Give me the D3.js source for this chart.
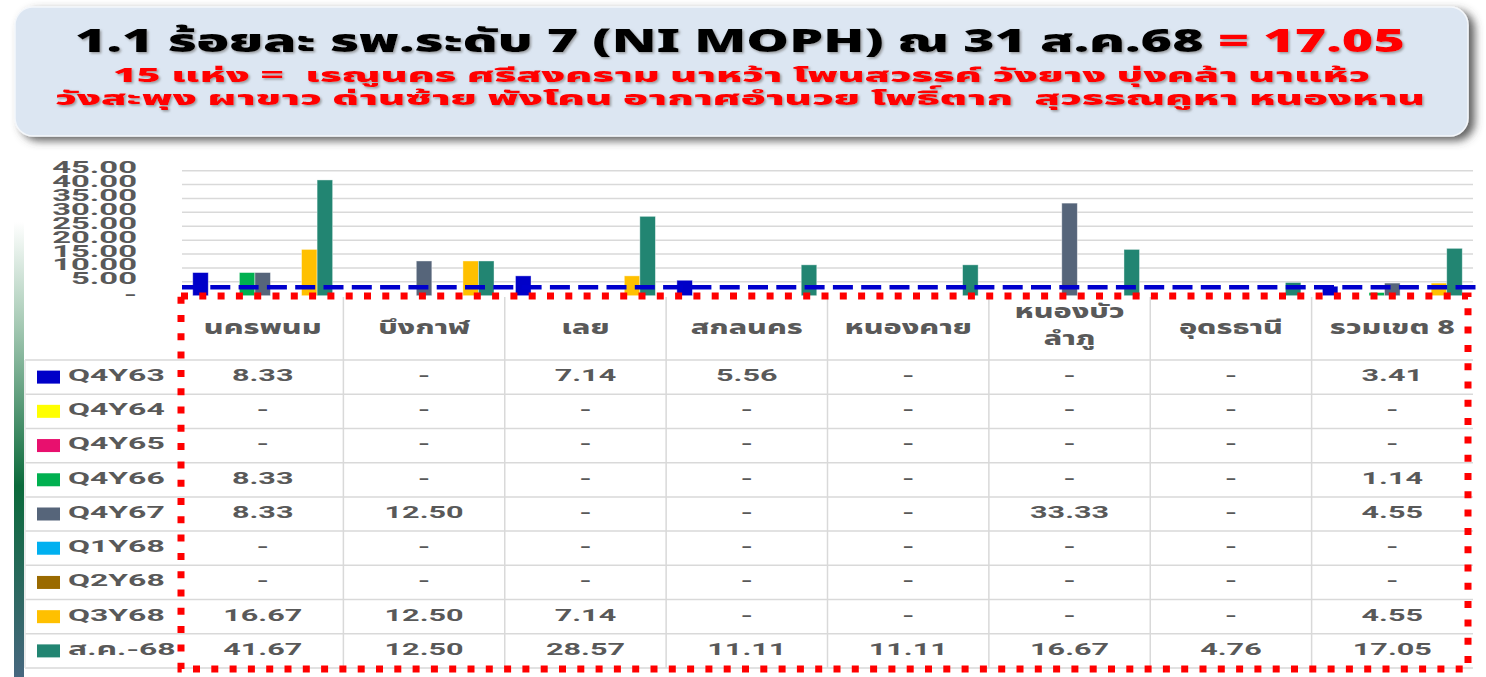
<html>
<head>
    <meta charset="utf-8">
    <title>ร้อยละ รพ.ระดับ 7 (NI MOPH)</title>
    <script src="https://cdn.jsdelivr.net/npm/d3@7/dist/d3.min.js" charset="utf-8"></script>
    <style>
        body {
            margin: 0;
            background: #ffffff;
            font-family: "Noto Sans Thai", "Noto Sans", Roboto, sans-serif;
        }
        .num {
            font-family: Roboto, "Noto Sans Thai", sans-serif;
            font-weight: bold;
            fill: #595959;
        }
        .thai {
            font-family: "Noto Sans Thai", "Noto Sans", sans-serif;
            font-weight: 800;
            fill: #595959;
        }
        .title {
            white-space: pre;
        }
    </style>
</head>
<body>
    <script>
    var width = 1486;
    var height = 677;

    // data (null = "-")
    var districts = ["นครพนม", "บึงกาฬ", "เลย", "สกลนคร", "หนองคาย", "หนองบัวลำภู", "อุดรธานี", "รวมเขต 8"];
    var periods = ["Q4Y63", "Q4Y64", "Q4Y65", "Q4Y66", "Q4Y67", "Q1Y68", "Q2Y68", "Q3Y68", "ส.ค.-68"];
    var q4y63 = [8.33, null, 7.14, 5.56, null, null, null, 3.41];
    var q4y64 = [null, null, null, null, null, null, null, null];
    var q4y65 = [null, null, null, null, null, null, null, null];
    var q4y66 = [8.33, null, null, null, null, null, null, 1.14];
    var q4y67 = [8.33, 12.50, null, null, null, 33.33, null, 4.55];
    var q1y68 = [null, null, null, null, null, null, null, null];
    var q2y68 = [null, null, null, null, null, null, null, null];
    var q3y68 = [16.67, 12.50, 7.14, null, null, null, null, 4.55];
    var aug68 = [41.67, 12.50, 28.57, 11.11, 11.11, 16.67, 4.76, 17.05];
    var yTicks = [0, 5, 10, 15, 20, 25, 30, 35, 40, 45];
    var targetValue = 3;
    var hospitals = "เรณูนคร ศรีสงคราม นาหว้า โพนสวรรค์ วังยาง บุ่งคล้า นาแห้ว วังสะพุง ผาขาว ด่านซ้าย พังโคน อากาศอำนวย โพธิ์ตาก สุวรรณคูหา หนองหาน".split(" ");

    var seriesValues = [q4y63, q4y64, q4y65, q4y66, q4y67, q1y68, q2y68, q3y68, aug68];
    var periodColors = ["#0000c8", "#ffff00", "#e8106e", "#00b050", "#56657a", "#00b0f0", "#9a6a00", "#ffc000", "#228572"];

    // the picture is stretched sideways
    var SX = 1.8, SX_AXIS = 2.05, SX_LEG = 1.88, SX_HEAD = 1.6;
    var fmt = d3.format(".2f");
    function cellText(v) { return v == null ? "-" : fmt(v); }

    var svg = d3.select("body")
        .append("svg")
        .attr("width", width)
        .attr("height", height);

    var defs = svg.append("defs");
    var shadow = defs.append("filter").attr("id", "boxShadow")
        .attr("x", "-5%").attr("y", "-20%").attr("width", "110%").attr("height", "145%");
    shadow.append("feDropShadow").attr("dx", 6).attr("dy", 4).attr("stdDeviation", 4)
        .attr("flood-color", "#444").attr("flood-opacity", 0.85);
    var tshadow = defs.append("filter").attr("id", "textShadow");
    tshadow.append("feDropShadow").attr("dx", 1.5).attr("dy", 1.5).attr("stdDeviation", 1.2)
        .attr("flood-color", "#7a7a7a").attr("flood-opacity", 0.7);
    var grad = defs.append("linearGradient").attr("id", "sideBar")
        .attr("x1", 0).attr("y1", 0).attr("x2", 0).attr("y2", 1);
    grad.append("stop").attr("offset", "0%").attr("stop-color", "#ffffff");
    grad.append("stop").attr("offset", "22%").attr("stop-color", "#a8cbb6");
    grad.append("stop").attr("offset", "58%").attr("stop-color", "#0b6a3b");
    grad.append("stop").attr("offset", "100%").attr("stop-color", "#47677f");

    // side ribbon
    svg.append("rect").attr("x", 14).attr("y", 222).attr("width", 10).attr("height", 455)
        .attr("fill", "url(#sideBar)");

    // title box
    svg.append("rect")
        .attr("x", 15).attr("y", 7)
        .attr("width", 1453).attr("height", 129)
        .attr("rx", 18)
        .attr("fill", "#dce6f2")
        .attr("stroke", "#f4f7fb").attr("stroke-width", 1.5)
        .attr("filter", "url(#boxShadow)");

    var t1 = svg.append("text")
        .attr("class", "title")
        .attr("x", 75).attr("y", 52)
        .attr("font-size", 31).attr("font-weight", 900)
        .attr("textLength", 1330).attr("lengthAdjust", "spacingAndGlyphs")
        .attr("filter", "url(#textShadow)");
    t1.append("tspan").attr("fill", "#000").text("1.1 ร้อยละ รพ.ระดับ 7 (NI MOPH) ณ 31 ส.ค.68 ");
    t1.append("tspan").attr("fill", "#ff0000").text("= " + fmt(aug68[7]));

    svg.append("text")
        .attr("class", "title")
        .attr("x", 113).attr("y", 82)
        .attr("font-size", 20).attr("font-weight", 900).attr("fill", "#ff0000")
        .attr("textLength", 1257).attr("lengthAdjust", "spacingAndGlyphs")
        .attr("filter", "url(#textShadow)")
        .text(hospitals.length + " แห่ง =  " + hospitals.slice(0, 7).join(" "));

    svg.append("text")
        .attr("class", "title")
        .attr("x", 55).attr("y", 105)
        .attr("font-size", 20).attr("font-weight", 900).attr("fill", "#ff0000")
        .attr("textLength", 1370).attr("lengthAdjust", "spacingAndGlyphs")
        .attr("filter", "url(#textShadow)")
        .text(hospitals.slice(7, 13).join(" ") + "  " + hospitals.slice(13).join(" "));

    // scales
    var x0 = d3.scaleBand()
        .domain(districts)
        .range([182, 1473])
        .paddingInner(0.133)
        .paddingOuter(0.0665);
    var x1 = d3.scaleBand()
        .domain(periods)
        .range([0, x0.bandwidth()]);
    var y = d3.scaleLinear()
        .domain([0, 45])
        .range([295.7, 170.7]);
    var row = d3.scaleBand()
        .domain(periods)
        .range([360, 668]);
    var color = d3.scaleOrdinal().domain(periods).range(periodColors);

    // gridlines
    svg.append("g").selectAll("line")
        .data(yTicks.slice(1))
        .enter().append("line")
        .attr("x1", 182).attr("x2", 1473)
        .attr("y1", d => y(d)).attr("y2", d => y(d))
        .attr("stroke", "#d9d9d9").attr("stroke-width", 1.5);

    // y axis
    var yAxis = svg.append("g")
        .attr("transform", "translate(137,0)")
        .call(d3.axisLeft(y).tickValues(yTicks).tickSize(0)
            .tickFormat(d => d === 0 ? "-" : fmt(d)));
    yAxis.select(".domain").remove();
    yAxis.selectAll("text")
        .attr("class", "num")
        .attr("font-size", 16)
        .attr("x", 0).attr("dy", null)
        .attr("y", d => d === 0 ? 4 : 2)
        .attr("transform", "scale(" + SX_AXIS + ",1)");

    // bars
    var groups = svg.append("g").selectAll("g")
        .data(districts)
        .enter().append("g")
        .attr("transform", d => "translate(" + x0(d) + ",0)");

    groups.selectAll("rect")
        .data((d, i) => periods.map((p, j) => ({ period: p, value: seriesValues[j][i] }))
            .filter(e => e.value != null))
        .enter().append("rect")
        .attr("x", d => x1(d.period))
        .attr("width", x1.bandwidth())
        .attr("y", d => y(d.value))
        .attr("height", d => y(0) - y(d.value))
        .attr("fill", d => color(d.period))
        .attr("stroke", "#ffffff").attr("stroke-opacity", 0.5).attr("stroke-width", 0.8);

    // target line
    svg.append("line")
        .attr("x1", 182).attr("x2", 1476)
        .attr("y1", y(targetValue)).attr("y2", y(targetValue))
        .attr("stroke", "#0000cc").attr("stroke-width", 4.5)
        .attr("stroke-dasharray", "20,8.3");

    // data table
    var table = svg.append("g");
    var rowEdges = periods.map(p => row(p)).concat([row.range()[1]]);
    table.selectAll("line.h")
        .data(rowEdges)
        .enter().append("line")
        .attr("class", "h")
        .attr("x1", 25).attr("x2", 1473)
        .attr("y1", d => d).attr("y2", d => d)
        .attr("stroke", "#d9d9d9").attr("stroke-width", 1.5);
    table.append("line")
        .attr("x1", 25).attr("x2", 25)
        .attr("y1", row.range()[0]).attr("y2", row.range()[1])
        .attr("stroke", "#e6e6e6").attr("stroke-width", 1.5);
    table.selectAll("line.v")
        .data(districts.slice(1))
        .enter().append("line")
        .attr("class", "v")
        .attr("x1", d => x0(d) - x0.step() * x0.paddingInner() / 2)
        .attr("x2", d => x0(d) - x0.step() * x0.paddingInner() / 2)
        .attr("y1", 297).attr("y2", row.range()[1])
        .attr("stroke", "#d9d9d9").attr("stroke-width", 1.5);

    // column headers
    var headers = table.selectAll("g.head")
        .data(districts)
        .enter().append("g")
        .attr("class", "head")
        .attr("transform", d => "translate(" + (x0(d) + x0.bandwidth() / 2) + ",0)");
    headers.each(function (d) {
        var lines = d === "หนองบัวลำภู" ? ["หนองบัว", "ลำภู"] : [d];
        var g = d3.select(this);
        lines.forEach(function (l, k) {
            var base = lines.length === 1 ? 334 : 318 + k * 27;
            g.append("text")
                .attr("class", "thai")
                .attr("font-size", 19)
                .attr("text-anchor", "middle")
                .attr("transform", "translate(0," + base + ") scale(" + SX_HEAD + ",1)")
                .text(l);
        });
    });

    // legend column
    var legendRows = table.selectAll("g.leg")
        .data(periods)
        .enter().append("g")
        .attr("class", "leg")
        .attr("transform", d => "translate(0," + row(d) + ")");
    legendRows.append("rect")
        .attr("x", 37).attr("y", row.bandwidth() / 2 - 6.5)
        .attr("width", 23).attr("height", 13)
        .attr("fill", d => color(d));
    legendRows.append("text")
        .attr("class", "num")
        .attr("font-size", 17)
        .attr("transform", "translate(68,21) scale(" + SX_LEG + ",1)")
        .text(d => d);

    // cell values
    legendRows.each(function (p, j) {
        d3.select(this).selectAll("text.cell")
            .data(seriesValues[j])
            .enter().append("text")
            .attr("class", "num cell")
            .attr("font-size", 17)
            .attr("text-anchor", "middle")
            .attr("transform", (v, i) => "translate(" + (x0(districts[i]) + x0.bandwidth() / 2) + ",21) scale(" + SX + ",1)")
            .text(v => cellText(v));
    });

    // red dotted frame
    svg.append("rect")
        .attr("x", 181).attr("y", 296)
        .attr("width", 1287).attr("height", 373)
        .attr("fill", "none")
        .attr("stroke", "#ff0000").attr("stroke-width", 7)
        .attr("stroke-dasharray", "7,11.3");
    </script>
</body>
</html>
